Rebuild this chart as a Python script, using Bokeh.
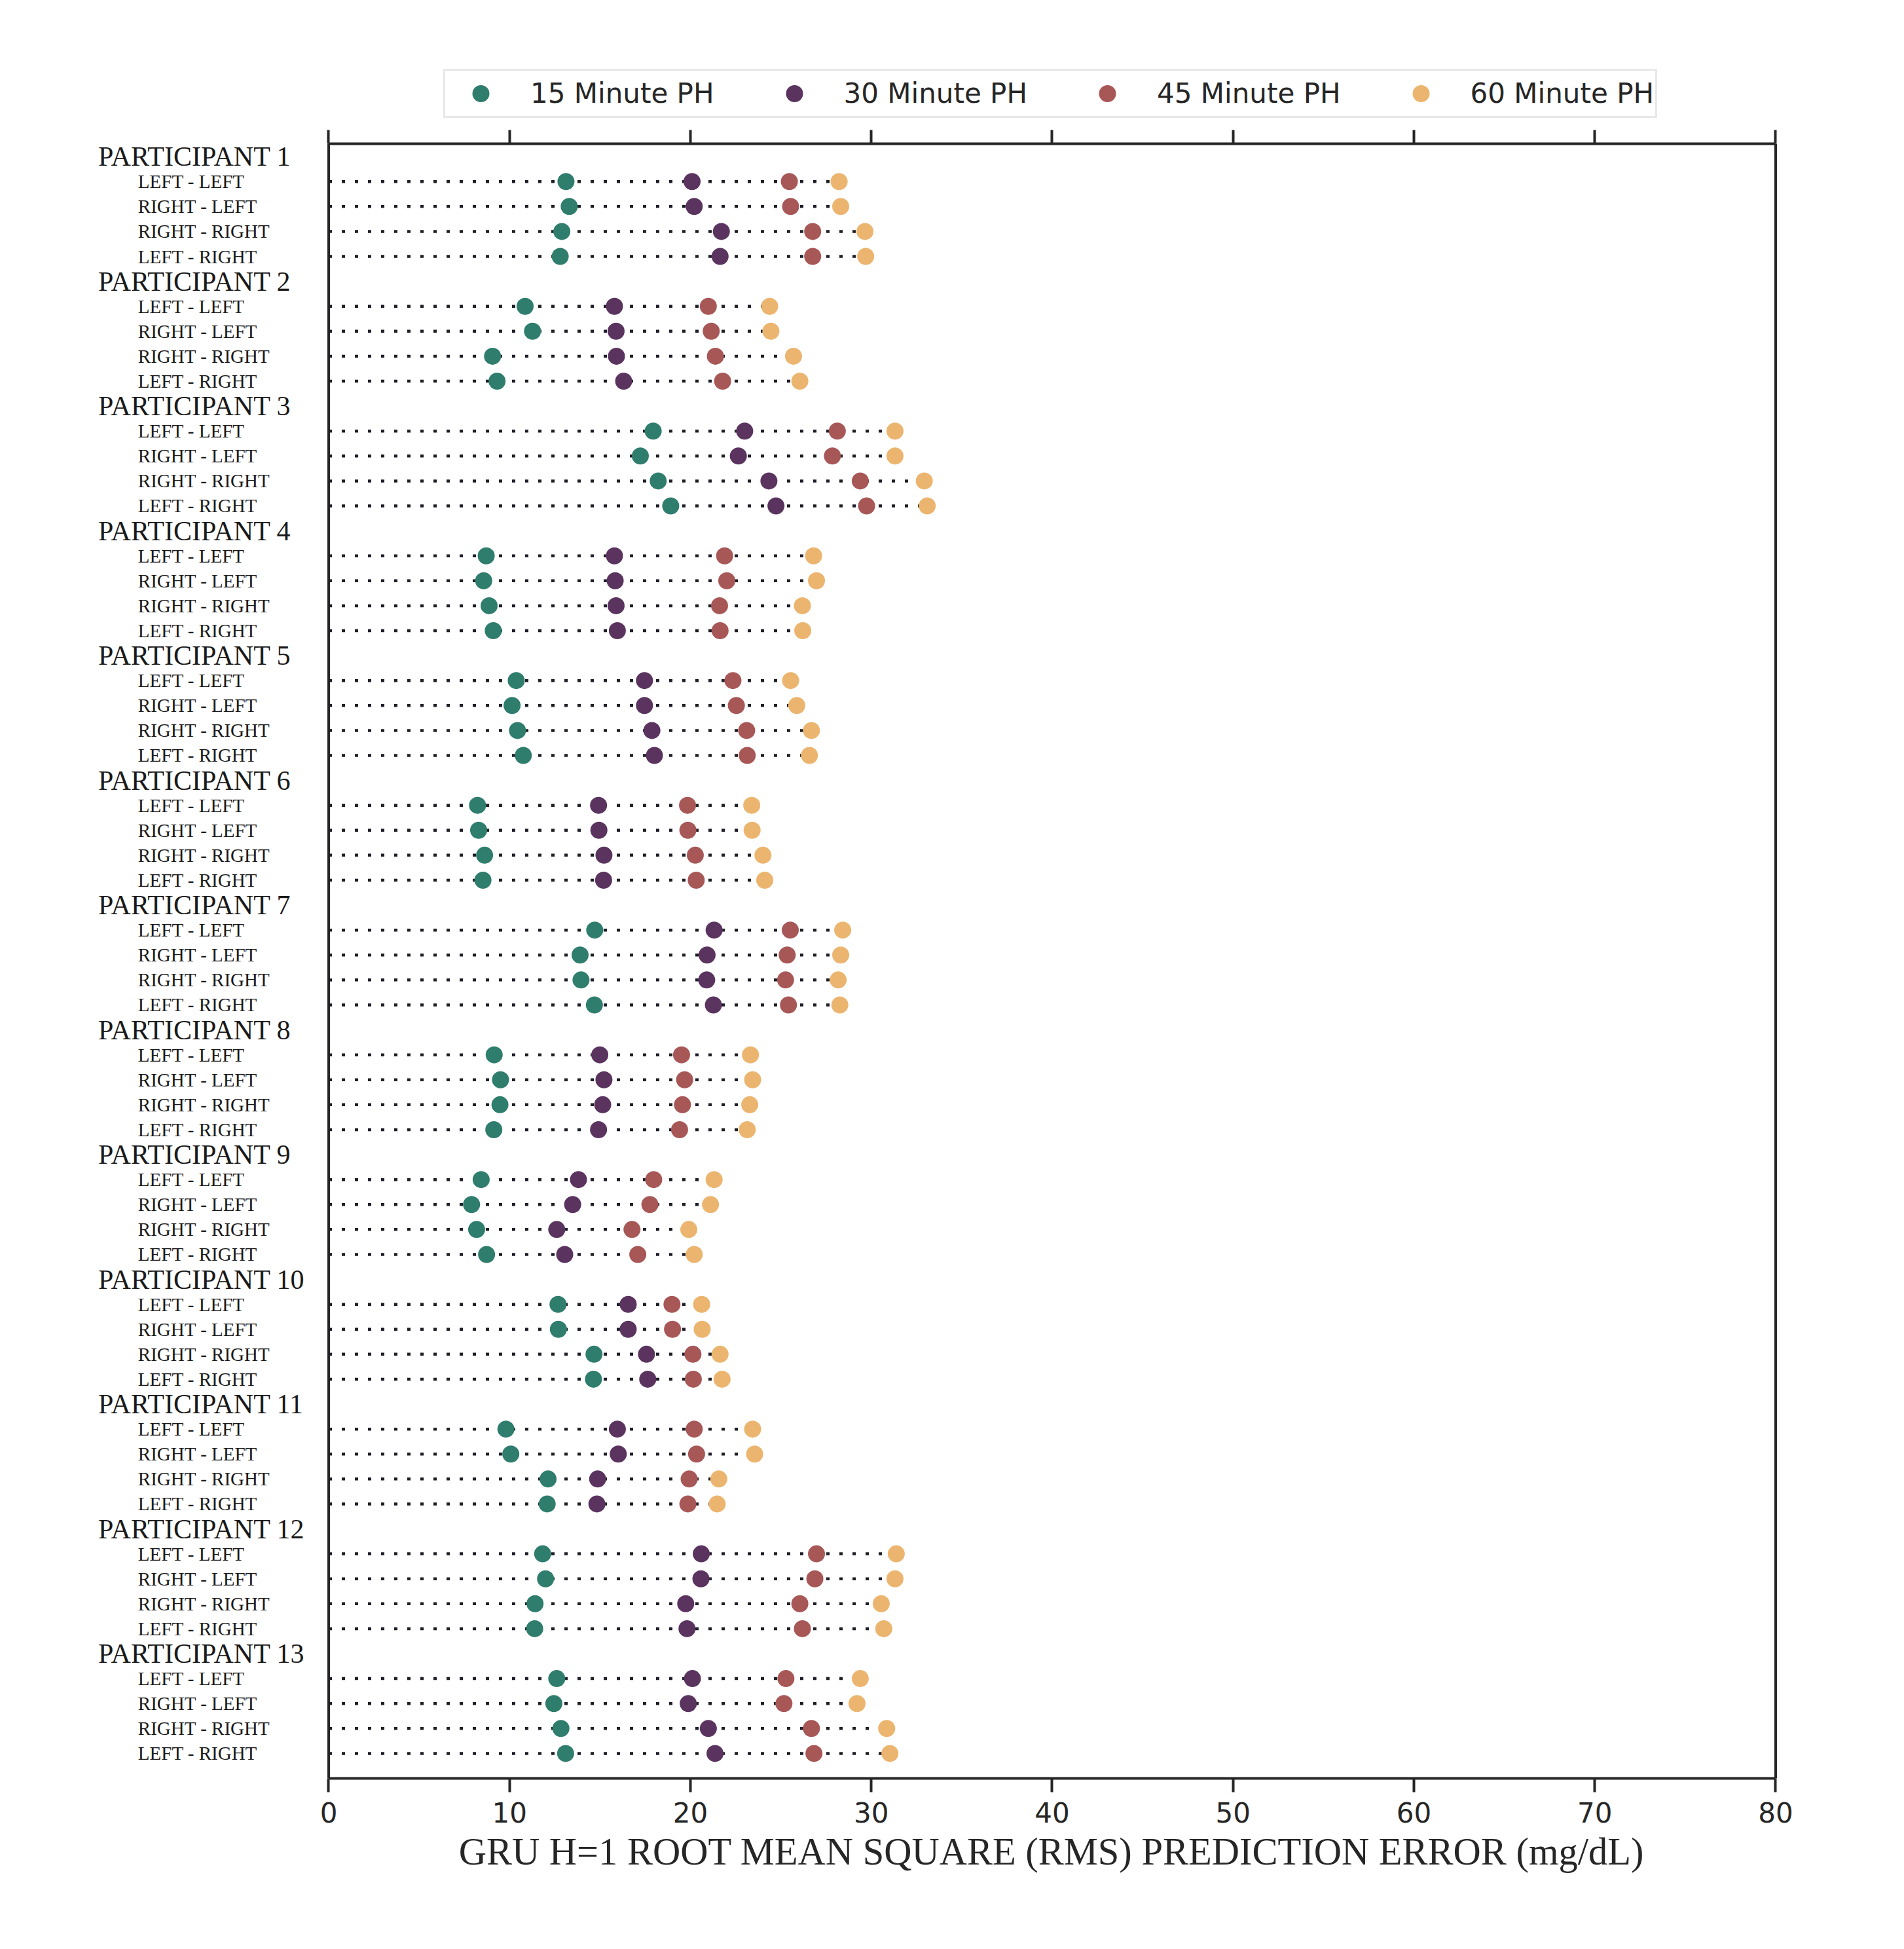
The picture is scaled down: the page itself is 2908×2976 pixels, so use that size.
from bokeh.plotting import figure
from bokeh.models import Range1d, LinearAxis, FixedTicker, Legend, LegendItem, Title
from bokeh.layouts import column
from bokeh.core.properties import value
from bokeh.embed import file_html
from bokeh.resources import INLINE

participants = [f"PARTICIPANT {k}" for k in range(1, 14)]
conditions = ["LEFT - LEFT", "RIGHT - LEFT", "RIGHT - RIGHT", "LEFT - RIGHT"]
series_names = ["15 Minute PH", "30 Minute PH", "45 Minute PH", "60 Minute PH"]
series_colors = ["#2f7d6d", "#5a335f", "#a85757", "#ecb56f"]
x_ticks = [0, 10, 20, 30, 40, 50, 60, 70, 80]
x_label = "GRU H=1 ROOT MEAN SQUARE (RMS) PREDICTION ERROR (mg/dL)"

ph15 = [13.12, 13.30, 12.89, 12.80, 10.86, 11.27, 9.06, 9.31, 17.94, 17.23, 18.22, 18.91,
        8.71, 8.57, 8.87, 9.10, 10.37, 10.14, 10.44, 10.76, 8.23, 8.29, 8.62, 8.53,
        14.71, 13.90, 13.95, 14.69, 9.15, 9.50, 9.47, 9.13, 8.43, 7.90, 8.18, 8.73,
        12.68, 12.70, 14.67, 14.64, 9.80, 10.07, 12.13, 12.08, 11.83, 11.99, 11.41, 11.39,
        12.61, 12.45, 12.84, 13.10]
ph30 = [20.09, 20.21, 21.71, 21.64, 15.80, 15.89, 15.91, 16.31, 23.00, 22.65, 24.34, 24.73,
        15.80, 15.84, 15.89, 15.96, 17.46, 17.46, 17.87, 18.01, 14.92, 14.94, 15.22, 15.20,
        21.31, 20.92, 20.90, 21.27, 14.99, 15.22, 15.15, 14.92, 13.81, 13.49, 12.61, 13.05,
        16.56, 16.56, 17.57, 17.64, 15.96, 16.01, 14.87, 14.83, 20.60, 20.58, 19.74, 19.81,
        20.11, 19.88, 20.99, 21.36]
ph45 = [25.47, 25.54, 26.76, 26.76, 20.99, 21.15, 21.38, 21.78, 28.12, 27.85, 29.39, 29.74,
        21.89, 22.01, 21.61, 21.64, 22.35, 22.54, 23.11, 23.14, 19.84, 19.86, 20.27, 20.32,
        25.52, 25.35, 25.26, 25.42, 19.51, 19.68, 19.56, 19.40, 17.97, 17.76, 16.77, 17.09,
        18.98, 19.01, 20.14, 20.16, 20.21, 20.34, 19.93, 19.86, 26.97, 26.88, 26.05, 26.19,
        25.28, 25.17, 26.69, 26.83]
ph60 = [28.22, 28.31, 29.65, 29.69, 24.38, 24.45, 25.70, 26.05, 31.31, 31.31, 32.93, 33.09,
        26.81, 26.97, 26.19, 26.21, 25.54, 25.88, 26.69, 26.58, 23.39, 23.41, 24.01, 24.11,
        28.42, 28.31, 28.17, 28.26, 23.32, 23.44, 23.28, 23.14, 21.31, 21.11, 19.91, 20.21,
        20.62, 20.65, 21.64, 21.75, 23.44, 23.55, 21.57, 21.48, 31.38, 31.31, 30.55, 30.69,
        29.39, 29.21, 30.85, 31.03]

n_rows = len(participants) * (len(conditions) + 1)
header_y = [n_rows - 1 - 5 * k for k in range(len(participants))]
row_y = [n_rows - 1 - (5 * k + 1 + j) for k in range(len(participants)) for j in range(len(conditions))]
row_labels = [c for _ in participants for c in conditions]
row_max = [max(a, b, c, d) for a, b, c, d in zip(ph15, ph30, ph45, ph60)]
all_series = [ph15, ph30, ph45, ph60]

AX = "#262626"
BORDER_L, BORDER_R = 128, 150
FRAME_W, FRAME_H = 2595, 2496
TOTAL_W = BORDER_L + FRAME_W + BORDER_R
LEG_H = 185

# ---------- legend strip (its own figure; the series are plotted off its visible range) ----------
leg_fig = figure(width=TOTAL_W, height=LEG_H, x_range=Range1d(-2, -1), y_range=Range1d(-3, -2),
                 output_backend="svg", toolbar_location=None,
                 x_axis_location=None, y_axis_location=None,
                 min_border=0, min_border_left=0, min_border_right=0, min_border_top=0, min_border_bottom=0)
leg_fig.grid.visible = False
leg_fig.outline_line_color = None
leg_renderers = [leg_fig.scatter(x=vals, y=row_y, size=26, fill_color=c, line_color=None)
                 for vals, c in zip(all_series, series_colors)]
legend = Legend(items=[LegendItem(label=n, renderers=[r]) for n, r in zip(series_names, leg_renderers)],
                orientation="horizontal", location=(549, 5),
                glyph_width=104, glyph_height=65, label_standoff=24, spacing=70, padding=2,
                margin=0,
                label_text_font="DejaVu Sans", label_text_font_size="42px", label_text_color=AX,
                border_line_color="#d2d2d2", border_line_width=3, background_fill_color="white")
leg_fig.add_layout(legend, "center")

# ---------- main chart ----------
Y_TOP = n_rows - 1 + 0.515
p = figure(frame_width=FRAME_W, frame_height=FRAME_H,
           x_range=Range1d(-13.52, 80.417), y_range=Range1d(-1, Y_TOP),
           output_backend="svg", toolbar_location=None,
           x_axis_location=None, y_axis_location=None,
           min_border_left=BORDER_L, min_border_right=BORDER_R,
           min_border_top=219 - LEG_H, min_border_bottom=200)
p.grid.visible = False
p.outline_line_color = None

def style_axis(ax):
    ax.ticker = FixedTicker(ticks=x_ticks)
    ax.bounds = (0, 80)
    ax.axis_line_width = 4
    ax.axis_line_color = AX
    ax.major_tick_line_width = 4
    ax.major_tick_line_color = AX
    ax.major_tick_in = 0
    ax.major_tick_out = 21
    ax.minor_tick_line_color = None

xaxis = LinearAxis()
style_axis(xaxis)
xaxis.major_label_text_font = "DejaVu Sans"
xaxis.major_label_text_font_size = "42px"
xaxis.major_label_text_color = AX
xaxis.major_label_standoff = 15
p.add_layout(xaxis, "below")

# axis title, right-aligned so that it is centred under the 0-80 axis
p.add_layout(Title(text=x_label, align="right", offset=212, vertical_align="top", standoff=19,
                   text_font="Liberation Serif", text_font_size="58.5px",
                   text_font_style="normal", text_color=AX), "below")

top_axis = LinearAxis()
style_axis(top_axis)
top_axis.major_label_overrides = {t: " " for t in x_ticks}
top_axis.major_label_text_font_size = "1px"
top_axis.major_label_standoff = 4
p.add_layout(top_axis, "above")

# spines left/right
p.segment(x0=[0, 80], y0=[-1, -1], x1=[0, 80], y1=[Y_TOP, Y_TOP], line_width=4, line_color=AX)

# dotted guide lines
p.segment(x0=[0] * len(row_y), y0=row_y, x1=row_max, y1=row_y,
          line_dash="5 15", line_width=4.5, line_color="#1e1e28", line_cap="butt")

for vals, col in zip(all_series, series_colors):
    p.scatter(x=vals, y=row_y, size=26, fill_color=col, line_color=None)

p.text(x=[-12.74] * len(header_y), y=header_y, text=participants,
       text_font=value("Liberation Serif"), text_font_size="42px",
       text_align="left", text_baseline="middle", text_color="#1a1a1a")
p.text(x=[-10.54] * len(row_y), y=row_y, text=row_labels,
       text_font=value("Liberation Serif"), text_font_size="29px",
       text_align="left", text_baseline="middle", text_color="#1a1a1a")

layout = column(leg_fig, p, spacing=0)
open("out.html", "w").write(file_html(layout, INLINE))
